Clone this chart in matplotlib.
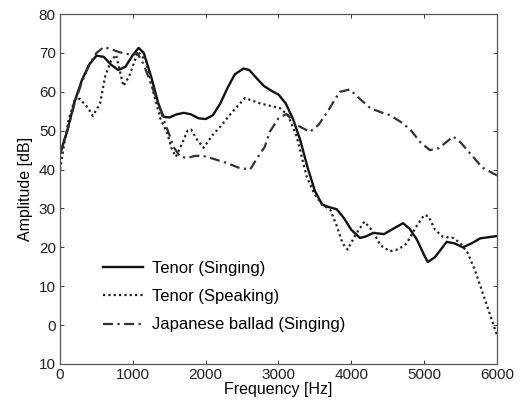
import matplotlib
matplotlib.use("Agg")
import matplotlib.pyplot as plt

plt.rcParams['font.family'] = ['Liberation Sans', 'DejaVu Sans']

# Tenor (Singing)
sing_hz = [0, 100, 200, 300, 400, 500, 600, 700, 800, 900, 1000, 1080, 1150, 1250,
           1350, 1420, 1500, 1600, 1700, 1800, 1900, 2000, 2100, 2200, 2300, 2400,
           2520, 2600, 2700, 2800, 2900, 3000, 3100, 3200, 3300, 3400, 3500, 3600,
           3700, 3800, 3900, 4000, 4120, 4200, 4300, 4450, 4550, 4710, 4800, 4900,
           5000, 5050, 5150, 5310, 5420, 5530, 5650, 5770, 6000]
sing_db = [44, 50, 57.5, 63, 67, 69.3, 69, 67, 65.6, 66.5, 69.5, 71.3, 70, 64,
           57, 53.6, 53.4, 54.2, 54.6, 54.2, 53.2, 53, 54, 57, 61, 64.5,
           66, 65.6, 63.5, 61.5, 60.3, 59.3, 57, 53, 47.5, 40.5, 34.5, 31,
           30.3, 29.8, 27.5, 24.5, 22.4, 22.8, 23.7, 23.4, 24.5, 26.2, 24.8, 22,
           18, 16.2, 17.5, 21.4, 21, 20, 21, 22.3, 22.9]

# Tenor (Speaking)
speak_hz = [0, 60, 120, 200, 270, 380, 450, 550, 620, 700, 770, 870, 950, 1070,
            1180, 1280, 1380, 1470, 1530, 1590, 1660, 1750, 1800, 1870, 1970, 2100,
            2200, 2350, 2540, 2750, 3020, 3130, 3250, 3390, 3500, 3600, 3710, 3800,
            3880, 3950, 4050, 4180, 4300, 4400, 4530, 4650, 4760, 4880, 5000, 5060,
            5150, 5260, 5400, 5500, 5600, 5700, 5800, 5900, 6000]
speak_db = [40, 47, 53, 57.8, 58.2, 56, 53.8, 57, 64, 68, 69.5, 61.5, 64, 70.3,
            68, 60, 53, 49.5, 45.5, 43.3, 46, 50, 50.3, 48, 45.6, 49,
            51, 54.5, 58.4, 57, 55.8, 54, 48.5, 38, 33.5, 31, 29.7, 25.5,
            21, 19.4, 23, 26.6, 24, 20.5, 19, 19.5, 21, 25, 28.3, 28,
            24.5, 22.7, 22.4, 21, 18.5, 14, 8.5, 3, -2.6]

# Japanese ballad (Singing)
ballad_hz = [0, 100, 200, 300, 400, 500, 600, 700, 800, 900, 1000, 1060, 1150, 1250,
             1350, 1420, 1500, 1560, 1650, 1750, 1850, 1950, 2100, 2290, 2450, 2610,
             2720, 2810, 2880, 3000, 3110, 3250, 3430, 3550, 3660, 3840, 3980, 4100,
             4260, 4400, 4530, 4700, 4810, 4950, 5080, 5200, 5300, 5400, 5500, 5630,
             5800, 5950, 6000]
ballad_db = [44, 50, 57, 62.5, 67, 70, 71.5, 71, 70.3, 69.8, 69.5, 70, 67, 62,
             57, 53, 49, 45.8, 43.3, 43, 43.5, 43.6, 42.8, 41.7, 40.5, 40,
             43.3, 45.8, 49.7, 53.2, 54.3, 51.5, 49.7, 51.5, 54.5, 60, 60.6, 58.5,
             55.8, 54.8, 54, 52, 50.3, 47, 45, 45.5, 47, 48.5, 47, 44.2,
             40.5, 39, 38.5]

x_ticks = [0, 1000, 2000, 3000, 4000, 5000, 6000]
y_ticks = [-10, 0, 10, 20, 30, 40, 50, 60, 70, 80]
y_tick_labels = ['10', '0', '10', '20', '30', '40', '50', '60', '70', '80']

fig = plt.figure(figsize=(5.22, 4.03), dpi=100)
ax = fig.add_axes([0.115, 0.097, 0.837, 0.868])

ax.plot(sing_hz, sing_db, color='#111111', lw=1.7, linestyle='-',
        label='Tenor (Singing)')
ax.plot(speak_hz, speak_db, color='#222222', lw=1.6, linestyle=(0, (1, 1.4)),
        label='Tenor (Speaking)')
ax.plot(ballad_hz, ballad_db, color='#333333', lw=1.6, linestyle=(0, (4.5, 2, 1, 2)),
        label='Japanese ballad (Singing)')

ax.set_xlim(0, 6000)
ax.set_ylim(-10, 80)
ax.set_xticks(x_ticks)
ax.set_yticks(y_ticks)
ax.set_yticklabels(y_tick_labels)
ax.tick_params(direction='in', top=True, right=True, length=3, width=0.6,
               labelsize=11, colors='#222222', pad=3)
for s in ax.spines.values():
    s.set_color('#555555')
    s.set_linewidth(0.9)

ax.set_xlabel('Frequency [Hz]', fontsize=11.5, labelpad=0)
ax.set_ylabel('Amplitude [dB]', fontsize=11.5, labelpad=4)

ax.legend(loc='lower left', bbox_to_anchor=(0.098, 0.09), frameon=False,
          borderpad=0, borderaxespad=0, fontsize=12, handlelength=2.4,
          labelspacing=0.8, handletextpad=0.55)

fig.savefig('out.png', dpi=100)
